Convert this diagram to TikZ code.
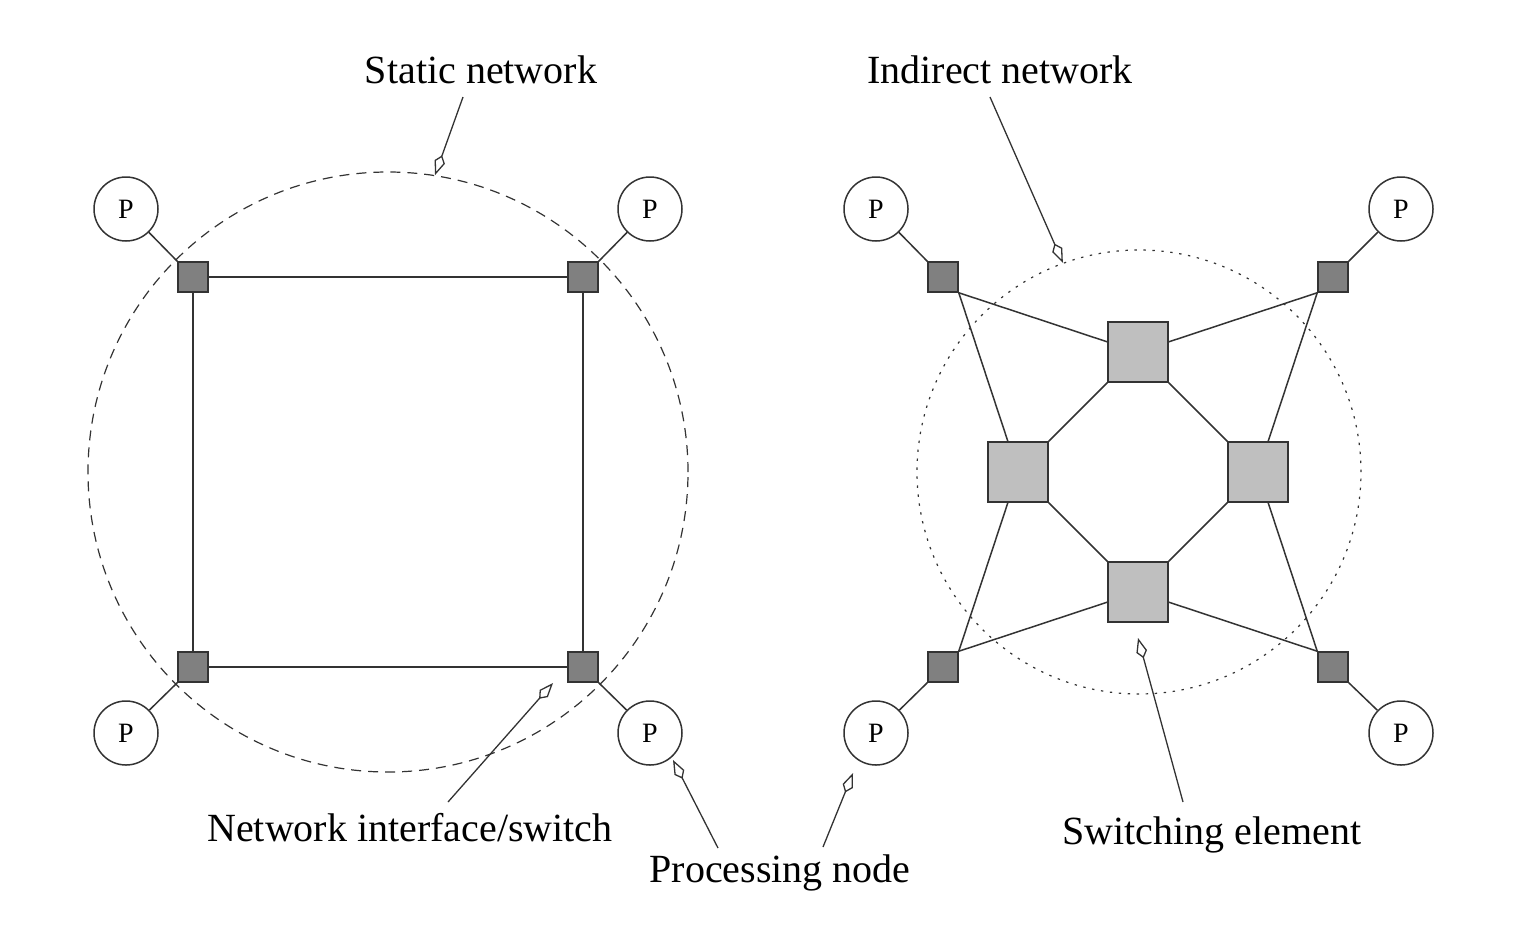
\documentclass[tikz,border=0pt]{standalone}
\usepackage{fontspec}
\setmainfont{Liberation Serif}
\usetikzlibrary{arrows.meta}
\begin{document}
\begin{tikzpicture}[x=0.5pt,y=-0.5pt,
  ln/.style={draw=black!80, line width=0.75pt},
  pnode/.style={circle, draw=black!80, line width=0.75pt, minimum size=32pt, inner sep=0pt, font=\fontsize{14}{16}\selectfont, fill=white},
  iface/.style={rectangle, draw=black!80, line width=0.75pt, fill=black!50, minimum size=15pt, inner sep=0pt},
  swel/.style={rectangle, draw=black!80, line width=0.75pt, fill=black!25, minimum size=30pt, inner sep=0pt},
  lbl/.style={font=\fontsize{20}{24}\selectfont, inner sep=0pt},
  ptr/.style={draw=black!80, line width=0.65pt, -{Kite[open, length=10.5pt, width=5.5pt, inset=3.5pt]}},
  ring/.style={circle, draw=black!80, line width=0.6pt, inner sep=0pt},
]
\useasboundingbox (0,0) rectangle (1530,932);

% boundary circles
\node[ring, dash pattern=on 5pt off 3.5pt, minimum size=300pt] (static) at (388,472) {};
\node[ring, dash pattern=on 1.2pt off 3.3pt, minimum size=222pt] (indirect) at (1139,472) {};

% ---------- static network ----------
\node[iface] (s1) at (193,277) {};
\node[iface] (s2) at (583,277) {};
\node[iface] (s3) at (193,667) {};
\node[iface] (s4) at (583,667) {};
\node[pnode] (p1) at (126,209) {P};
\node[pnode] (p2) at (650,209) {P};
\node[pnode] (p3) at (126,733) {P};
\node[pnode] (p4) at (650,733) {P};
\draw[ln] (s1) -- (s2);
\draw[ln] (s2) -- (s4);
\draw[ln] (s4) -- (s3);
\draw[ln] (s3) -- (s1);
\draw[ln] (p1) -- (s1.north west);
\draw[ln] (p2) -- (s2.north east);
\draw[ln] (p3) -- (s3.south west);
\draw[ln] (p4) -- (s4.south east);

% ---------- indirect network ----------
\node[swel] (top) at (1138,352) {};
\node[swel] (left) at (1018,472) {};
\node[swel] (right) at (1258,472) {};
\node[swel] (bottom) at (1138,592) {};
\node[iface] (d1) at (943,277) {};
\node[iface] (d2) at (1333,277) {};
\node[iface] (d3) at (943,667) {};
\node[iface] (d4) at (1333,667) {};
\node[pnode] (p5) at (876,209) {P};
\node[pnode] (p6) at (1401,209) {P};
\node[pnode] (p7) at (876,733) {P};
\node[pnode] (p8) at (1401,733) {P};
\draw[ln] (top.south west) -- (left.north east);
\draw[ln] (top.south east) -- (right.north west);
\draw[ln] (bottom.north west) -- (left.south east);
\draw[ln] (bottom.north east) -- (right.south west);
\draw[ln] (d1.south east) -- (top);
\draw[ln] (d1.south east) -- (left);
\draw[ln] (d2.south west) -- (top);
\draw[ln] (d2.south west) -- (right);
\draw[ln] (d3.north east) -- (left);
\draw[ln] (d3.north east) -- (bottom);
\draw[ln] (d4.north west) -- (right);
\draw[ln] (d4.north west) -- (bottom);
\draw[ln] (p5) -- (d1.north west);
\draw[ln] (p6) -- (d2.north east);
\draw[ln] (p7) -- (d3.south west);
\draw[ln] (p8) -- (d4.south east);

% ---------- labels ----------
\node[lbl] (lstatic) at (481,70) {Static network};
\node[lbl] (lindirect) at (1000,70) {Indirect network};
\node[lbl] (lni) at (410,828) {Network interface/switch};
\node[lbl] (lproc) at (780,873) {Processing node};
\node[lbl] (lsw) at (1212,835) {Switching element};

\coordinate (a1) at (463,97);
\coordinate (a2) at (990,97);
\coordinate (a3) at (448,802);
\coordinate (t3) at (553,683);
\coordinate (a4) at (718,848);
\coordinate (t4) at (673,760);
\coordinate (a5) at (823,847);
\coordinate (t5) at (853,773);
\coordinate (a6) at (1183,802);
\coordinate (t6) at (1138,638);

\draw[ptr] (a1) -- (static.81);
\draw[ptr] (a2) -- (indirect.110);
\draw[ptr] (a3) -- (t3);
\draw[ptr] (a4) -- (t4);
\draw[ptr] (a5) -- (t5);
\draw[ptr] (a6) -- (t6);
\end{tikzpicture}
\end{document}
